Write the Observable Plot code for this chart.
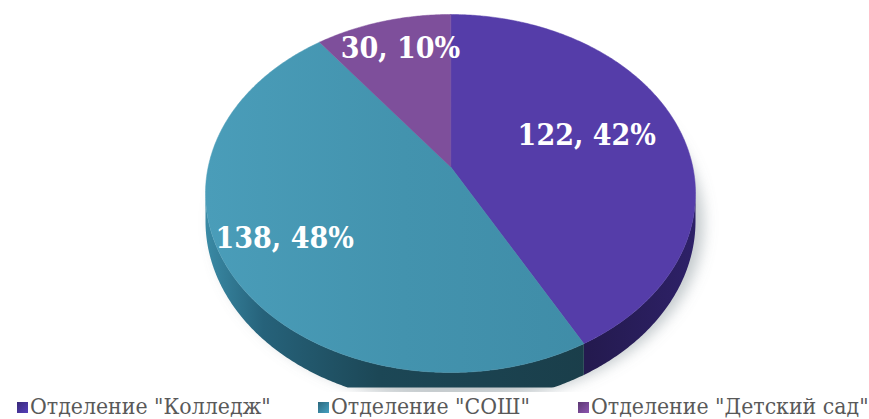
<!DOCTYPE html>
<html><head><meta charset="utf-8">
<script src="https://cdn.jsdelivr.net/npm/d3@7"></script>
<script src="https://cdn.jsdelivr.net/npm/@observablehq/plot@0.6"></script>
<style>
body{margin:0;background:#fff;}
#wrap{position:relative;width:869px;height:419px;overflow:hidden;background:#fff;}
#chart{position:absolute;left:0;top:0;}
.leg{position:absolute;font-family:"DejaVu Serif Condensed","DejaVu Serif",serif;font-stretch:condensed;font-size:22.8px;line-height:22px;color:#595959;white-space:nowrap;}
.sw{position:absolute;width:11px;height:11px;}
</style></head><body><div id="wrap"><div id="chart"></div></div>
<script>
// ---- data ----
const categories = ['Отделение "Колледж"', 'Отделение "СОШ"', 'Отделение "Детский сад"'];
const values = [122, 138, 30];
const percents = [42, 48, 10];

// ---- style / layout ----
const topColors = ["#553DA9", "url(#gTealTop)", "#7E4F9B"];
const sideColors = ["url(#gPurpleSide)", "url(#gTealSide)", "#4a2a63"];
const legendColors = ["#4a37a0", "#3b8aa6", "#7a4a98"];
const persp = 0.15;      // perspective strength
const depth = 0.155;     // wall height (world units)
const cut = -1.2617;     // lower crop of the picture (projected units)
const labelOffsets = [[-6, -5], [-33, 10], [-6, -24]];
const labelR = 0.62;

const labels = values.map((v, i) => `${v}, ${percents[i]}%`);
const arcs = d3.pie().sort(null).value(d => d)(values);

// perspective projection of a point on the pie (X right, Z away from viewer, h height)
function proj(X, Z, h = 0) {
  const s = 1 + persp * Z;
  return {x: X / s, y: (Z - h) / s};
}
const xMax = 1 / Math.sqrt(1 - persp * persp);
const yTop = 1 / (1 + persp), yBot = -1 / (1 - persp);

const step = Math.PI / 360;
function angles(a0, a1) {
  const n = Math.max(2, Math.ceil((a1 - a0) / step));
  return d3.range(n + 1).map(k => a0 + (a1 - a0) * k / n);
}
const tops = arcs.map(arc => [proj(0, 0), ...angles(arc.startAngle, arc.endAngle).map(a => proj(Math.sin(a), Math.cos(a)))]);
const silL = Math.acos(-persp), silR = 2 * Math.PI - Math.acos(-persp);
const sides = arcs.map(arc => {
  const a0 = Math.max(arc.startAngle, silL), a1 = Math.min(arc.endAngle, silR);
  if (a1 <= a0) return [];
  const as = angles(a0, a1);
  const up = as.map(a => proj(Math.sin(a), Math.cos(a)));
  const down = as.slice().reverse().map(a => { const p = proj(Math.sin(a), Math.cos(a), depth); return {x: p.x, y: Math.max(p.y, cut)}; });
  return [...up, ...down];
});
const outline = angles(0, 2 * Math.PI).map(a => proj(Math.sin(a), Math.cos(a)));
const labelData = arcs.map((arc, i) => {
  const m = (arc.startAngle + arc.endAngle) / 2;
  return {...proj(labelR * Math.sin(m), labelR * Math.cos(m)), text: labels[i]};
});

const marks = [
  Plot.line(outline, {x: "x", y: "y", curve: "linear-closed", fill: "#7d8a90", fillOpacity: 0.45, stroke: "none", dx: 8, dy: 30})
];
sides.forEach((s, i) => { if (s.length) marks.push(Plot.line(s, {x: "x", y: "y", curve: "linear-closed", fill: sideColors[i], stroke: "none"})); });
tops.forEach((t, i) => marks.push(Plot.line(t, {x: "x", y: "y", curve: "linear-closed", fill: topColors[i], stroke: topColors[i], strokeWidth: 0.5})));
labelData.forEach((d, i) => marks.push(Plot.text([d], {
  x: "x", y: "y", text: "text", dx: labelOffsets[i][0], dy: labelOffsets[i][1],
  fill: "white", fontSize: 30, fontWeight: "bold", textAnchor: "middle",
  fontFamily: '"DejaVu Serif Condensed","DejaVu Serif",serif'
})));

const svg = Plot.plot({
  width: 869, height: 392,
  margin: 0,
  x: {domain: [-xMax, xMax], range: [205, 695], axis: null},
  y: {domain: [yBot, yTop], range: [372, 14], axis: null},
  style: {background: "transparent", overflow: "hidden"},
  marks
});

// gradients + shadow blur
const sel = d3.select(svg);
const defs = sel.insert("defs", ":first-child");
function lin(id, x1, x2, stops) {
  const g = defs.append("linearGradient").attr("id", id).attr("gradientUnits", "userSpaceOnUse")
    .attr("x1", x1).attr("x2", x2).attr("y1", 0).attr("y2", 0);
  stops.forEach(([o, c]) => g.append("stop").attr("offset", o).attr("stop-color", c));
}
lin("gTealTop", 205, 600, [[0, "#4a9db9"], [0.5, "#4393ae"], [1, "#3f8ca7"]]);
lin("gTealSide", 205, 590, [[0, "#3a8aa5"], [0.15, "#26627a"], [0.45, "#1c4756"], [1, "#1a3e4a"]]);
lin("gPurpleSide", 588, 697, [[0, "#241a4f"], [1, "#2e2168"]]);
const f = defs.append("filter").attr("id", "blur").attr("x", "-20%").attr("y", "-20%").attr("width", "140%").attr("height", "140%");
f.append("feGaussianBlur").attr("stdDeviation", 7);
const lineGroups = svg.querySelectorAll('g[aria-label="line"]');
if (lineGroups.length) lineGroups[0].setAttribute("filter", "url(#blur)");

document.getElementById("chart").appendChild(svg);

// legend
const wrap = document.getElementById("wrap");
const legX = [17, 318, 578];
categories.forEach((c, i) => {
  const sw = document.createElement("div");
  sw.className = "sw";
  sw.style.left = legX[i] + "px"; sw.style.top = "402px";
  sw.style.background = `linear-gradient(135deg, ${d3.color(legendColors[i]).darker(0.8)}, ${legendColors[i]} 60%, ${d3.color(legendColors[i]).brighter(0.4)})`;
  wrap.appendChild(sw);
  const t = document.createElement("div");
  t.className = "leg";
  t.style.left = (legX[i] + 13) + "px"; t.style.top = "395px";
  t.textContent = c;
  wrap.appendChild(t);
});
</script></body></html>
